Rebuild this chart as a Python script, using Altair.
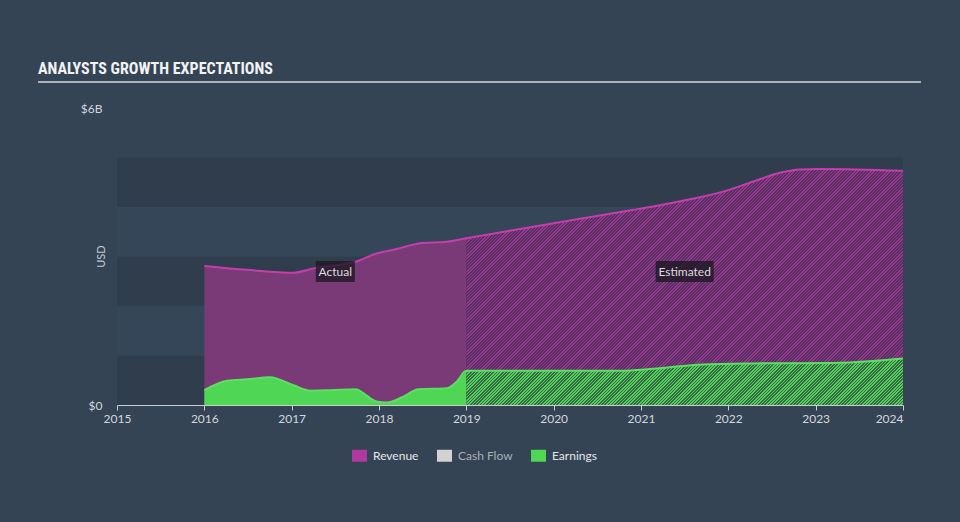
import altair as alt
import pandas as pd

# ---------------- data (USD billions, x = decimal year) ----------------
rev_act_x = [2016.0, 2016.49, 2017.02, 2017.25, 2017.74, 2017.97, 2018.2, 2018.47, 2018.78, 2019.0]
rev_act_y = [2.81, 2.73, 2.67, 2.76, 2.90, 3.06, 3.15, 3.27, 3.30, 3.37]
rev_est_x = [2019.0, 2020.0, 2020.87, 2021.14, 2021.52, 2021.98, 2022.28, 2022.59, 2022.82, 2023.05, 2024.0]
rev_est_y = [3.37, 3.67, 3.93, 4.01, 4.14, 4.33, 4.51, 4.69, 4.76, 4.77, 4.73]

earn_act_x = [2016.0, 2016.26, 2016.49, 2016.75, 2017.02, 2017.21, 2017.44, 2017.74, 2017.82, 2017.97,
              2018.09, 2018.28, 2018.45, 2018.78, 2018.89, 2019.0]
earn_act_y = [0.30, 0.49, 0.52, 0.56, 0.40, 0.29, 0.30, 0.32, 0.24, 0.07,
              0.05, 0.17, 0.32, 0.34, 0.47, 0.69]
earn_est_x = [2019.0, 2020.0, 2020.76, 2021.14, 2021.71, 2022.28, 2023.2, 2023.66, 2024.0]
earn_est_y = [0.69, 0.69, 0.69, 0.73, 0.82, 0.84, 0.85, 0.89, 0.94]

series_names = ["Revenue", "Cash Flow", "Earnings"]
series_colors = ["#b0399e", "#d2d2d2", "#4fd655"]

x_ticks = [2015, 2016, 2017, 2018, 2019, 2020, 2021, 2022, 2023, 2024]
y_ticks = [0, 6]
band_lo = [0, 1, 2, 3, 4]
band_hi = [1, 2, 3, 4, 5]
band_shade = ["dark", "light", "dark", "light", "dark"]

ann_text = ["Actual", "Estimated"]
ann_from = [2016.0, 2019.0]
ann_to = [2019.0, 2024.0]

# ---------------- layout / style ----------------
PLOT_W, PLOT_H = 786, 297
X_DOM = [2015, 2024]
Y_DOM = [0, 6]
PX_PER_YEAR = PLOT_W / (X_DOM[1] - X_DOM[0])
PX_PER_B = PLOT_H / (Y_DOM[1] - Y_DOM[0])

BG = "#344455"
AXIS_C = "#c9ced5"
LABEL_C = "#d3d7dc"
FONT = "Lato"


def hatch(W, H, period, frac, c_on, c_off):
    L = W + H
    den = W * W + H * H
    a = W * L / den
    b = H * L / den
    stops = []
    k = 0
    while True:
        t0 = k * period / L
        if t0 >= 1:
            break
        t1 = min((k * period + period * frac) / L, 1.0)
        t2 = min((k + 1) * period / L, 1.0)
        stops += [(t0, c_on), (t1, c_on), (t1, c_off), (t2, c_off)]
        k += 1
    return alt.LinearGradient(
        gradient="linear",
        stops=[alt.GradientStop(offset=round(o, 6), color=c) for o, c in stops],
        x1=0, y1=0, x2=round(a, 6), y2=round(b, 6),
    )


x_enc = alt.X("x:Q", scale=alt.Scale(domain=X_DOM, nice=False, zero=False), title=None,
              axis=alt.Axis(values=x_ticks, format="d", grid=False, domainColor=AXIS_C,
                            tickColor=AXIS_C, tickSize=5, labelColor=LABEL_C, labelFontSize=12,
                            labelFont=FONT, labelPadding=3,
                            labelAlign={"condition": {"test": "datum.value >= 2024", "value": "right"},
                                        "value": "center"}))
y_enc = alt.Y("y:Q", scale=alt.Scale(domain=Y_DOM, nice=False), title=None,
              axis=alt.Axis(values=y_ticks, grid=False, domain=False, ticks=False,
                            labelExpr="datum.value == 0 ? '$0' : '$' + datum.value + 'B'",
                            labelColor=LABEL_C, labelFontSize=12, labelFont=FONT, labelPadding=15))

bands_df = pd.DataFrame({"x": X_DOM[0], "x2": X_DOM[1], "y": band_lo, "y2": band_hi, "shade": band_shade})
bands = alt.Chart(bands_df).mark_rect().encode(
    x=x_enc, x2="x2:Q", y=y_enc, y2="y2:Q",
    fill=alt.Fill("shade:N", scale=alt.Scale(domain=["dark", "light"], range=["#303d4c", "#344658"]), legend=None),
)

rev_act = pd.DataFrame({"x": rev_act_x, "y": rev_act_y})
rev_est = pd.DataFrame({"x": rev_est_x, "y": rev_est_y})
earn_act = pd.DataFrame({"x": earn_act_x, "y": earn_act_y})
earn_est = pd.DataFrame({"x": earn_est_x, "y": earn_est_y})
rev_all = pd.DataFrame({"x": rev_act_x + rev_est_x[1:], "y": rev_act_y + rev_est_y[1:]})
earn_all = pd.DataFrame({"x": earn_act_x + earn_est_x[1:], "y": earn_act_y + earn_est_y[1:]})

est_w = (max(rev_est_x) - min(rev_est_x)) * PX_PER_YEAR
rev_hatch = hatch(est_w, max(rev_est_y) * PX_PER_B, 3.2, 0.45, "#96398e", "#553060")
earn_hatch = hatch(est_w, max(earn_est_y) * PX_PER_B, 3.2, 0.5, "#50cf56", "#386a4a")

rev_area_a = alt.Chart(rev_act).mark_area(interpolate="monotone", color="#793a77").encode(x=x_enc, y=y_enc)
rev_area_e = alt.Chart(rev_est).mark_area(interpolate="monotone", fill=rev_hatch).encode(x=x_enc, y=y_enc)
rev_line = alt.Chart(rev_all).mark_line(interpolate="monotone", color="#c63db0", strokeWidth=2).encode(x=x_enc, y=y_enc)
earn_area_a = alt.Chart(earn_act).mark_area(interpolate="monotone", color="#4fd655").encode(x=x_enc, y=y_enc)
earn_area_e = alt.Chart(earn_est).mark_area(interpolate="monotone", fill=earn_hatch).encode(x=x_enc, y=y_enc)
earn_line = alt.Chart(earn_all).mark_line(interpolate="monotone", color="#58e25d", strokeWidth=2).encode(x=x_enc, y=y_enc)

# Actual / Estimated tags
box_half_px = [19.5, 29]
ann_mid = [(a + b) / 2 for a, b in zip(ann_from, ann_to)]
ann_df = pd.DataFrame({
    "t": ann_text, "x": ann_mid,
    "xa": [m - h / PX_PER_YEAR for m, h in zip(ann_mid, box_half_px)],
    "xb": [m + h / PX_PER_YEAR for m, h in zip(ann_mid, box_half_px)],
})
ann_box = alt.Chart(ann_df).mark_rect(color="#1c1822", opacity=0.78).encode(
    x=alt.X("xa:Q"), x2="xb:Q", y=alt.value(153), y2=alt.value(174))
ann_txt = alt.Chart(ann_df).mark_text(color="#dcdcdc", fontSize=12, font=FONT, baseline="middle").encode(
    x=alt.X("x:Q"), y=alt.value(163.5), text="t:N")

# legend
leg_df = pd.DataFrame({"series": series_names})
legend_layer = alt.Chart(leg_df).mark_square(opacity=0).encode(
    color=alt.Color("series:N", scale=alt.Scale(domain=series_names, range=series_colors),
                    legend=alt.Legend(orient="none", legendX=235, legendY=340, direction="horizontal",
                                      title=None, symbolType="M-1,-0.8H1V0.8H-1Z", symbolSize=225,
                                      symbolOpacity=1, symbolStrokeWidth=0, labelFontSize=12,
                                      labelFont=FONT, labelOffset=6, columnPadding=18, padding=0,
                                      labelColor={"expr": "datum.label == 'Cash Flow' ? '#a9b0b8' : '#e4e7ea'"})))

one = alt.Data(values=[{"a": 1}])
title_txt = alt.Chart(one).mark_text(
    text="ANALYSTS GROWTH EXPECTATIONS", align="left", baseline="alphabetic", fontSize=16,
    fontWeight="bold", font="Roboto Condensed, Roboto, sans-serif",
    color="#f2f2f2").encode(x=alt.value(-79), y=alt.value(-34))
underline = alt.Chart(one).mark_rule(color="#aab1b9", strokeWidth=2).encode(
    x=alt.value(-79), x2=alt.value(804), y=alt.value(-26))
usd_txt = alt.Chart(one).mark_text(text="USD", angle=270, align="center", baseline="middle",
                                   fontSize=11, font=FONT, color="#c3c9cf").encode(
    x=alt.value(-15), y=alt.value(148.5))

chart = alt.layer(
    bands, rev_area_a, rev_area_e, rev_line, earn_area_a, earn_area_e, earn_line,
    ann_box, ann_txt, legend_layer, title_txt, underline, usd_txt,
).properties(
    width=PLOT_W, height=PLOT_H, background=BG,
    autosize=alt.AutoSizeParams(type="none"),
    padding={"left": 117, "top": 108, "right": 57, "bottom": 117},
).configure_view(stroke=None).resolve_scale(color="independent")

chart.save("out.html", embed_options={"renderer": "svg", "actions": False})
